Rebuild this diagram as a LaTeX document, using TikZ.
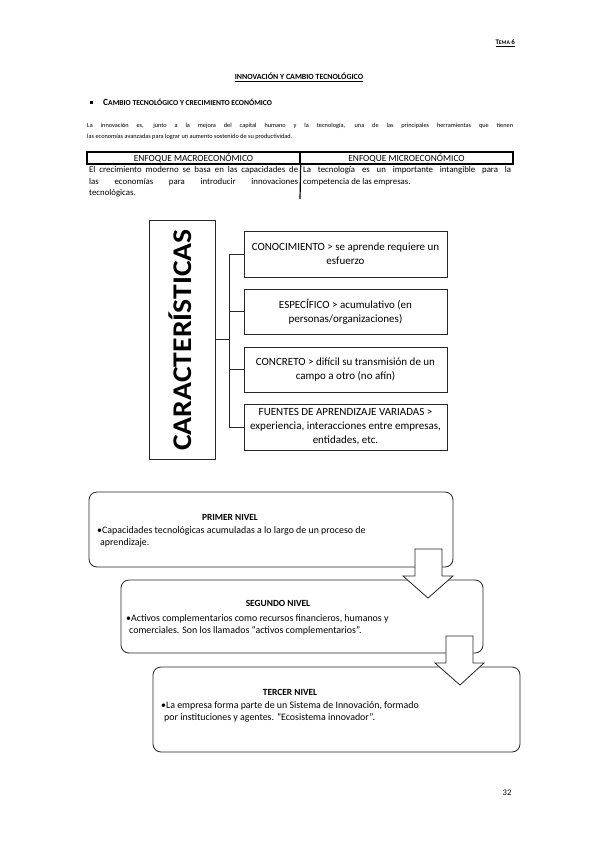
\documentclass[tikz,border=0pt]{standalone}
\usepackage{fontspec}
\setmainfont{Carlito}
\begin{document}
\begin{tikzpicture}[x=1pt,y=-1pt,
  ln/.style={line width=0.8pt, draw=black!85},
  cbox/.style={ln, draw, minimum width=203pt, inner sep=0pt, align=center, font=\fontsize{11}{14}\selectfont},
  lvl/.style={ln, draw, rounded corners=8pt, inner sep=0pt},
  blk/.style={ln, fill=white},
  hdr/.style={draw, line width=1.4pt, minimum width=213pt, minimum height=12pt, inner sep=0pt, font=\fontsize{9.4}{10}\selectfont},
  para/.style={anchor=base west, inner sep=0pt, font=\fontsize{6.3}{8}\selectfont},
  tbl/.style={anchor=base west, inner sep=0pt, font=\fontsize{8.8}{10}\selectfont},
  lvltitle/.style={inner sep=0pt, font=\fontsize{9.4}{10}\selectfont\bfseries},
  lvltext/.style={anchor=base west, inner sep=0pt, font=\fontsize{9.9}{11}\selectfont},
]
\useasboundingbox (0,0) rectangle (599,848);

% header
\node[anchor=base east, inner sep=0pt, font=\bfseries] (tema) at (515,45)
  {\underline{{\fontsize{7}{8}\selectfont T}{\fontsize{5.6}{7}\selectfont EMA }{\fontsize{7}{8}\selectfont 6}}};
\node[anchor=base, inner sep=0pt, font=\fontsize{7.9}{9}\selectfont\bfseries] (title) at (299,80)
  {\underline{INNOVACIÓN Y CAMBIO TECNOLÓGICO}};
\node[fill=black, minimum size=3pt, inner sep=0pt] (sq) at (91,103) {};
\node[anchor=base west, inner sep=0pt, font=\bfseries] (sub) at (103,105.5)
  {{\fontsize{9.4}{10}\selectfont C}{\fontsize{7.6}{9}\selectfont AMBIO TECNOLÓGICO Y CRECIMIENTO ECONÓMICO}};

% paragraph
\node[para] (pa1) at (87,128) {\makebox[426pt][s]{La innovación es, junto a la mejora del capital humano y la tecnología, una de las principales herramientas que tienen}};
\node[para] (pa2) at (87,139) {las economías avanzadas para lograr un aumento sostenido de su productividad.};

% table
\node[hdr] (h1) at (193.5,158) {ENFOQUE MACROECONÓMICO};
\node[hdr] (h2) at (406.5,158) {ENFOQUE MICROECONÓMICO};
\coordinate (dv) at (300,199);
\draw[line width=1.2pt] (h1.south east) -- (dv);
\node[tbl] (l1) at (89,172.5) {\makebox[209pt][s]{El crecimiento moderno se basa en las capacidades de}};
\node[tbl] (l2) at (89,184) {\makebox[209pt][s]{las economías para introducir innovaciones}};
\node[tbl] (l3) at (89,195.5) {tecnológicas.};
\node[tbl] (r1) at (303,172.5) {\makebox[208pt][s]{La tecnología es un importante intangible para la}};
\node[tbl] (r2) at (303,184) {competencia de las empresas.};

% caracteristicas
\node[ln, draw, minimum width=66pt, minimum height=239pt, inner sep=0pt] (cb) at (182,339.5) {};
\node[rotate=90, xscale=1.1, inner sep=0pt, font=\fontsize{27}{30}\selectfont\bfseries] (ct) at (180.5,340) {CARACTERÍSTICAS};
\node[cbox, minimum height=46pt] (c1) at (345.5,254) {CONOCIMIENTO > se aprende requiere un\\esfuerzo};
\node[cbox, minimum height=45pt] (c2) at (345.5,311.5) {ESPECÍFICO > acumulativo (en\\personas/organizaciones)};
\node[cbox, minimum height=45pt] (c3) at (345.5,369.5) {CONCRETO > difícil su transmisión de un\\campo a otro (no afín)};
\node[cbox, minimum height=46pt] (c4) at (345.5,427) {FUENTES DE APRENDIZAJE VARIADAS >\\experiencia, interacciones entre empresas,\\entidades, etc.};
\coordinate (j) at (229,336);
\draw[ln] (cb.east) -- (cb.east -| j);
\draw[ln] (c1.west) -- (c1.west -| j) -- (c4.west -| j) -- (c4.west);
\draw[ln] (c2.west) -- (c2.west -| j);
\draw[ln] (c3.west) -- (c3.west -| j);

% levels
\node[lvl, minimum width=364pt, minimum height=75pt] (n1) at (271,529.5) {};
\node[lvl, minimum width=362pt, minimum height=73pt] (n2) at (302,616.5) {};
\draw[blk] (415,549) -- (442,549) -- (442,576) -- (453,576) -- (428,598) -- (403,576) -- (415,576) -- cycle;
\node[lvl, minimum width=367pt, minimum height=85pt] (n3) at (336.5,709.5) {};
\draw[blk] (446,636) -- (473,636) -- (473,663) -- (484,663) -- (460,685) -- (435,663) -- (446,663) -- cycle;

\node[lvltitle] (t1) at (230,517) {PRIMER NIVEL};
\node[lvltext] (p1a) at (97,533) {•Capacidades tecnológicas acumuladas a lo largo de un proceso de};
\node[lvltext] (p1b) at (100,545) {aprendizaje.};

\node[lvltitle] (t2) at (278,603) {SEGUNDO NIVEL};
\node[lvltext] (p2a) at (126,621) {•Activos complementarios como recursos financieros, humanos y};
\node[lvltext] (p2b) at (129,633) {comerciales. Son los llamados “activos complementarios”.};

\node[lvltitle] (t3) at (290,692) {TERCER NIVEL};
\node[lvltext] (p3a) at (161,708) {•La empresa forma parte de un Sistema de Innovación, formado};
\node[lvltext] (p3b) at (164,720) {por instituciones y agentes. “Ecosistema innovador”.};

% page number
\node[anchor=base, inner sep=0pt, font=\fontsize{8.5}{9}\selectfont] (pg) at (507,795) {32};
\end{tikzpicture}
\end{document}
